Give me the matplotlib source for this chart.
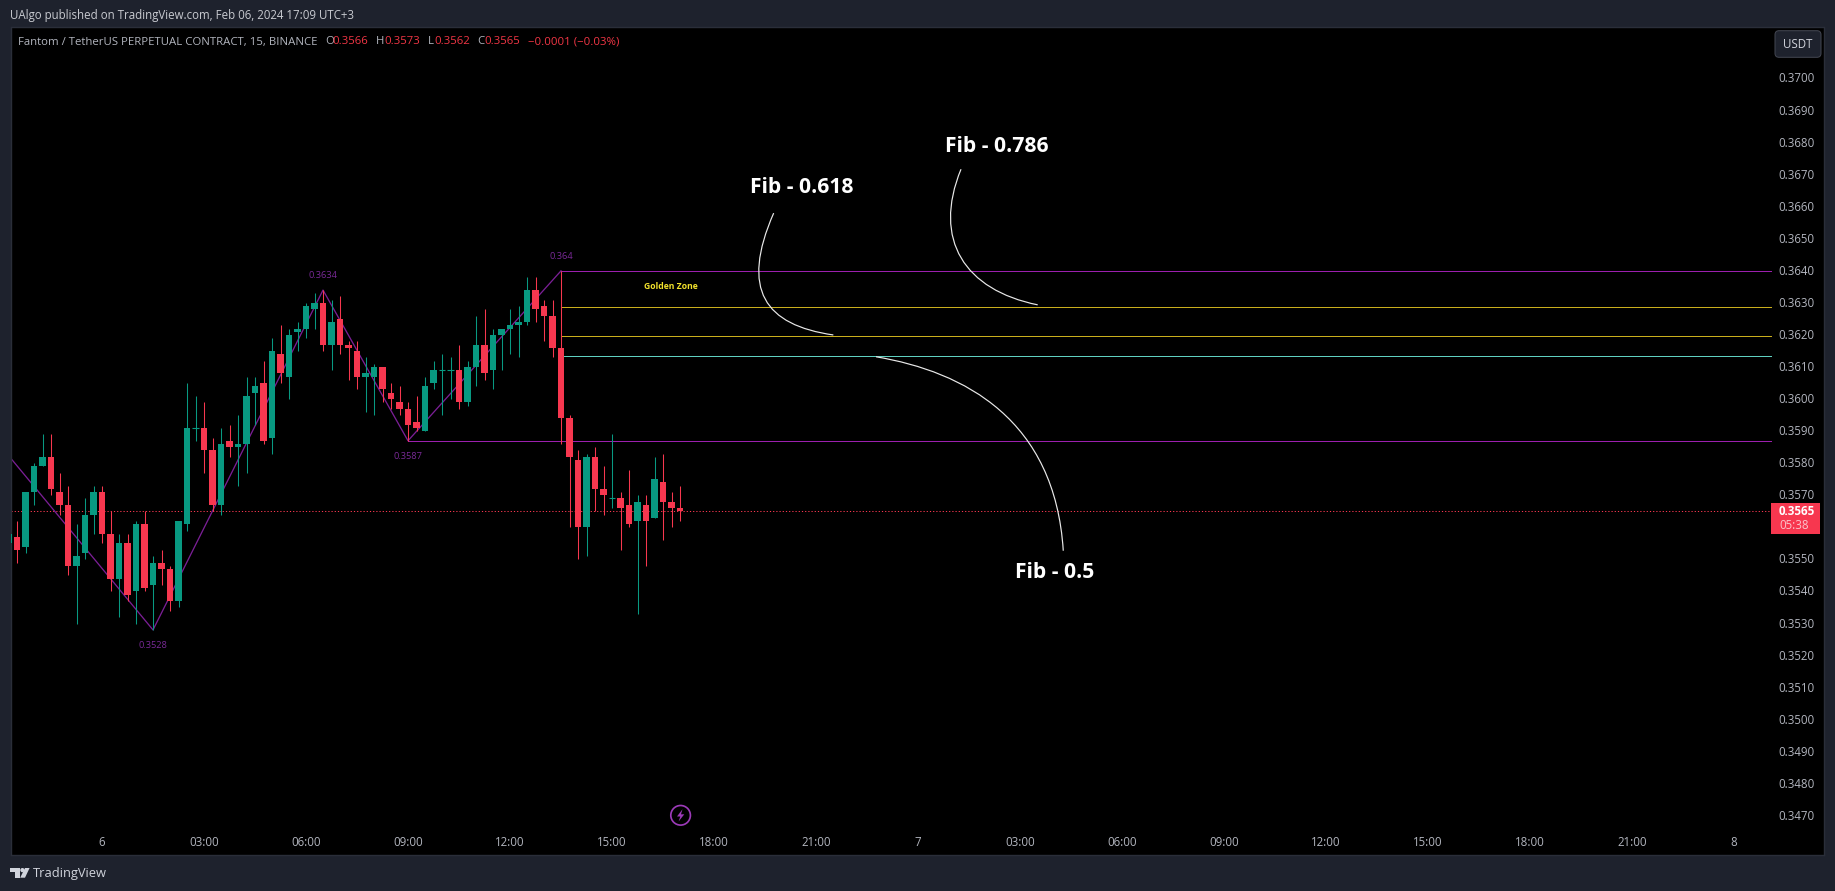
import matplotlib
matplotlib.use("Agg")
import matplotlib.pyplot as plt
from matplotlib.path import Path
from matplotlib.patches import PathPatch, Rectangle, FancyBboxPatch, Circle, Polygon
from matplotlib.transforms import ScaledTranslation

W, H = 1835, 891
# ---- data (prices) ----
first_index = -11
opens = [.3555,.3557,.3554,.3571,.3579,.3582,.3571,.3567,.3548,.3552,.3564,.3571,.3558,.3544,.3555,.3540,.3561,.3542,.3549,.3547,.3537,.3561,.3591,.3591,.3584,.3567,.3587,.3585,.3586,.3602,.3605,.3588,.3614,.3607,.3621,.3622,.3628,.3630,.3617,.3625,.3617,.3615,.3607,.3607,.3610,.3602,.3599,.3597,.3593,.3590,.3605,.3609,.3609,.3609,.3599,.3610,.3617,.3609,.3620,.3622,.3623,.3624,.3634,.3629,.3626,.3616,.3594,.3581,.3560,.3582,.3572,.3569,.3569,.3567,.3562,.3567,.3563,.3574,.3568,.3566]
highs = [.3558,.3562,.3571,.3580,.3589,.3589,.3577,.3573,.3561,.3569,.3573,.3573,.3565,.3558,.3558,.3562,.3565,.3551,.3553,.3548,.3562,.3605,.3601,.3599,.3588,.3591,.3592,.3595,.3607,.3607,.3612,.3619,.3623,.3622,.3624,.3630,.3633,.3634,.3631,.3632,.3618,.3618,.3613,.3611,.3610,.3605,.3604,.3599,.3601,.3607,.3612,.3614,.3613,.3617,.3612,.3626,.3628,.3622,.3622,.3628,.3629,.3638,.3638,.3631,.3631,.3640,.3595,.3584,.3583,.3585,.3579,.3589,.3571,.3578,.3570,.3570,.3582,.3583,.3571,.3573]
lows = [.3555,.3549,.3552,.3567,.3579,.3570,.3564,.3545,.3530,.3550,.3558,.3555,.3540,.3532,.3537,.3530,.3540,.3528,.3542,.3534,.3535,.3559,.3587,.3577,.3565,.3564,.3582,.3573,.3577,.3592,.3586,.3583,.3605,.3600,.3615,.3619,.3622,.3615,.3609,.3614,.3606,.3603,.3596,.3595,.3599,.3597,.3595,.3587,.3590,.3590,.3603,.3595,.3600,.3597,.3598,.3604,.3606,.3603,.3609,.3614,.3613,.3623,.3624,.3618,.3613,.3586,.3560,.3550,.3551,.3565,.3564,.3566,.3553,.3560,.3533,.3548,.3563,.3556,.3560,.3562]
closes = [.3558,.3553,.3571,.3579,.3582,.3572,.3567,.3548,.3551,.3564,.3571,.3558,.3544,.3555,.3539,.3561,.3541,.3549,.3547,.3537,.3562,.3591,.3591,.3584,.3567,.3586,.3585,.3586,.3601,.3604,.3587,.3615,.3608,.3620,.3622,.3629,.3630,.3617,.3624,.3617,.3616,.3607,.3608,.3610,.3603,.3600,.3597,.3592,.3591,.3604,.3609,.3609,.3609,.3599,.3610,.3617,.3608,.3620,.3622,.3623,.3624,.3634,.3628,.3626,.3616,.3594,.3582,.3560,.3582,.3572,.3570,.3569,.3566,.3561,.3568,.3562,.3575,.3568,.3566,.3565]
doji_up = [.3591, .3609, .3609, .3569]

zigzag_index = [-14, 6, 26, 36, 54]
zigzag_price = [.3592, .3528, .3634, .3587, .3640]
pivot_labels = ["0.3528", "0.3634", "0.3587", "0.364"]
last_price = .3565

fib_start = 54
pane_end = 196.35
level_top = .3640
level_bottom = .3587
level_786 = .36287
level_618 = .36198
level_50 = .36135

price_ticks = [round(.3470 + k * .001, 4) for k in range(24)]
hidden_price_tick = .3560   # sits under the last-price tag
time_labels = ["6","03:00","06:00","09:00","12:00","15:00","18:00","21:00",
               "7","03:00","06:00","09:00","12:00","15:00","18:00","21:00","8"]
time_ticks = [k * 12 for k in range(len(time_labels))]

curve_618 = [(79.02,.36580),(75.06,.36340),(78.00,.36231),(86.04,.36200)]
curve_786 = [(101.06,.36717),(97.65,.36496),(101.53,.36340),(110.08,.36294)]
curve_50  = [(91.06,.36132),(101.53,.36085),(112.12,.35935),(113.09,.35527)]
fib_texts = [("Fib - 0.618", 82.3, .36661), ("Fib - 0.786", 105.3, .36788), ("Fib - 0.5", 112.1, .35458)]

# ---- styles ----
BG = "#1e222d"; BORDER = "#2a2e39"; TXT = "#b2b5be"; LIGHT = "#d1d4dc"
UP = "#089981"; DOWN = "#f7374f"; RED_TXT = "#f23645"
ZIG = "#7b1f96"; LEVEL = "#9c1fae"; GOLD = "#c9ae1c"; TEAL = "#5fd0c0"
FONT = "Open Sans"
px = 0.72

plt.rcParams["font.family"] = [FONT, "DejaVu Sans"]
fig = plt.figure(figsize=(W/100, H/100), dpi=100, facecolor=BG)
L, R, T, B = 10.5, 1824.0, 27.5, 855.0
ax = fig.add_axes([L/W, 1-B/H, (R-L)/W, (B-T)/H], facecolor="black")
ax.set_xlim((L-102)/8.5, (R-102)/8.5)
ax.set_ylim(.3565-(B-511.3)/32060, .3565+(511.3-T)/32060)
for s in ax.spines.values():
    s.set_color(BORDER); s.set_linewidth(1.4*px)

def fx(x): return x/W
def fy(y): return 1-y/H
def ftext(x, y, s, **kw):
    kw.setdefault("va", "center"); kw.setdefault("family", FONT)
    return fig.text(fx(x), fy(y), s, **kw)

# reference lines
ax.plot([ax.get_xlim()[0], pane_end], [last_price]*2, color=DOWN, lw=1.0*px,
        ls=(0, (1.2, 2.0)), zorder=1)
ax.plot(zigzag_index, zigzag_price, color=ZIG, lw=1.3*px, zorder=1.5)
ax.plot([fib_start, pane_end], [level_top]*2, color=LEVEL, lw=1.0*px, zorder=1.5)
ax.plot([zigzag_index[3], pane_end], [level_bottom]*2, color=LEVEL, lw=1.0*px, zorder=1.5)
ax.plot([fib_start, pane_end], [level_786]*2, color=GOLD, lw=1.0*px, zorder=1.5)
ax.plot([fib_start, pane_end], [level_618]*2, color=GOLD, lw=1.0*px, zorder=1.5)
ax.plot([fib_start, pane_end], [level_50]*2, color=TEAL, lw=1.0*px, zorder=1.5)

# candles
for k, (o, h, l, c) in enumerate(zip(opens, highs, lows, closes)):
    i = first_index + k
    up = c > o or (c == o and c in doji_up)
    col = UP if up else DOWN
    ax.vlines(i, l, h, color=col, lw=1.05*px, zorder=2)
    if c == o:
        ax.hlines(o, i-.41, i+.41, color=col, lw=1.1*px, zorder=3)
    else:
        ax.bar(i, abs(c-o), bottom=min(o, c), width=.82, color=col, lw=0, zorder=3)

# pivot labels
offs = [-16, 15, -15.5, 14]
for (i, p, s, dy) in zip(zigzag_index[1:], zigzag_price[1:], pivot_labels, offs):
    ax.annotate(s, (i, p), xytext=(0, dy*px), textcoords="offset points", ha="center",
                va="center", color="#7a2a98", fontsize=6.7)

ax.text(66.9, .36351, "Golden Zone", color="#f2e22c", fontsize=6.2, fontweight="bold",
        ha="center", va="center")

# curved callouts
codes = [Path.MOVETO, Path.CURVE4, Path.CURVE4, Path.CURVE4]
for cv in (curve_618, curve_786, curve_50):
    ax.add_patch(PathPatch(Path(cv, codes), fc="none", ec="#e8e8e8", lw=1.2*px, zorder=4))
for s, i, p in fib_texts:
    ax.text(i, p, s, color="white", fontsize=15.2, fontweight="bold", ha="center", va="center", zorder=5)

# axes ticks drawn inside
ax.yaxis.tick_right()
ax.set_yticks(price_ticks)
ax.set_yticklabels(["" if v == hidden_price_tick else f"{v:.4f}" for v in price_ticks],
                   color=TXT, fontsize=8.3, ha="right")
ax.set_xticks(time_ticks)
ax.set_xticklabels(time_labels, color=TXT, fontsize=8.3)
ax.tick_params(axis="y", length=0, pad=-9.2*px)
ax.tick_params(axis="x", length=0, pad=-19.5*px)
up_1px = ScaledTranslation(0, 1/100, fig.dpi_scale_trans)
for lab in ax.get_yticklabels():
    lab.set_transform(lab.get_transform() + up_1px)

# header
ftext(9.5, 15.2, "UAlgo published on TradingView.com, Feb 06, 2024 17:09 UTC+3", color="#c8cad0", fontsize=8.3)
ftext(18, 42, "Fantom / TetherUS PERPETUAL CONTRACT, 15, BINANCE", color=TXT, fontsize=8.2)
for x, s, col in [(325,"O",TXT),(332.7,"0.3566",RED_TXT),(376,"H",TXT),(384,"0.3573",RED_TXT),
                  (428,"L",TXT),(434,"0.3562",RED_TXT),(477,"C",TXT),(484,"0.3565",RED_TXT),
                  (527.6,"\u22120.0001 (\u22120.03%)",RED_TXT)]:
    ftext(x, 42, s, color=col, fontsize=8.2)

# overlay in picture pixels for the chrome
icon_ax = fig.add_axes([0, 0, 1, 1], facecolor="none")
icon_ax.set_xlim(0, W); icon_ax.set_ylim(H, 0); icon_ax.axis("off")

# USDT button
icon_ax.add_patch(FancyBboxPatch((1779, 34.7), 38, 18.6, boxstyle="round,pad=4,rounding_size=4",
                                 fc=BG, ec="#434651", lw=1*px))
ftext(1798, 44.5, "USDT", color=LIGHT, fontsize=8.3, ha="center")

# last price tag
icon_ax.add_patch(Rectangle((1771, 502.7), 49, 31.3, fc=DOWN, ec="none"))
ftext(1815, 511.5, "0.3565", color="white", fontsize=8.4, fontweight="bold", ha="right")
ftext(1779, 525.7, "05:38", color="#fbc4cb", fontsize=8.3, ha="left")

# lightning marker
icon_ax.add_patch(Circle((680.6, 815.3), 9.8, fc="none", ec="#9c3ab8", lw=1.7*px))
icon_ax.add_patch(Polygon([(682.5,809.2),(677,816.5),(680.3,816.5),(678.6,821.5),(684.3,814.3),(681,814.3)],
                          fc="#9c3ab8", ec="none"))
# logo
for poly in ([(10,868),(19.5,868),(19.5,877.7),(14.8,877.7),(14.8,872.4),(10,872.4)],
             [(25,868),(29.6,868),(25,877.7),(20.2,877.7)]):
    icon_ax.add_patch(Polygon(poly, fc=LIGHT, ec="none"))
icon_ax.add_patch(Circle((22.4, 870.1), 2.1, fc=LIGHT, ec="none"))
ftext(33, 873, "TradingView", color=LIGHT, fontsize=9.3)

fig.savefig("out.png", dpi=100, facecolor=BG)
